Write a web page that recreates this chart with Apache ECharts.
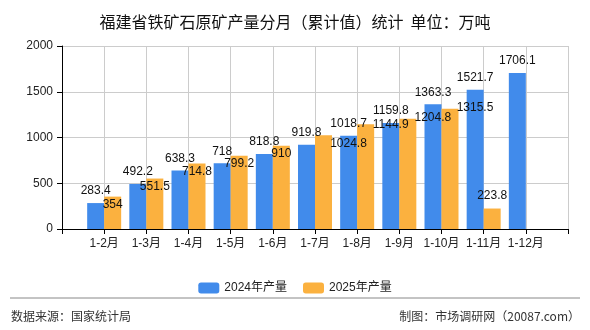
<!DOCTYPE html>
<html>
<head>
<meta charset="utf-8">
<script src="https://cdn.jsdelivr.net/npm/echarts@6/dist/echarts.min.js"></script>
<style>
  html, body { margin: 0; padding: 0; background: #fff; }
  #chart { width: 590px; height: 330px; }
</style>
</head>
<body>
<div id="chart"></div>
<script>
// 月份（累计）
const months = ['1-2月', '1-3月', '1-4月', '1-5月', '1-6月', '1-7月', '1-8月', '1-9月', '1-10月', '1-11月', '1-12月'];
// 产量，万吨
const output2024 = [283.4, 492.2, 638.3, 718, 818.8, 919.8, 1018.7, 1159.8, 1363.3, 1521.7, 1706.1];
const output2025 = [354, 551.5, 714.8, 799.2, 910, 1024.8, 1144.9, 1204.8, 1315.5, 223.8, null];
const yTicks = [0, 500, 1000, 1500, 2000];

const FONT = '"Liberation Sans", "Noto Sans CJK SC", sans-serif';
const chart = echarts.init(document.getElementById('chart'));

// 两端各留一个空位，让柱子落在刻度上
const cats = [''].concat(months, ['']);
const pad = arr => [null].concat(arr, [null]);

// 2025 标签的微调（按 cats 的下标）
const shift2025 = {
  6: { dx: 25 },
  7: { dx: 25, dy: -8 },
  8: { dx: 25, dy: -9 },
  9: { dx: 25, dy: -9 },
  10: { dy: -21 }
};

chart.setOption({
  backgroundColor: '#ffffff',
  animation: false,
  textStyle: { fontFamily: FONT },
  title: {
    text: '福建省铁矿石原矿产量分月（累计值）统计  单位：万吨',
    left: 'center',
    top: 9,
    textStyle: { fontSize: 16, fontWeight: 'normal', color: '#111', fontFamily: '"Noto Sans CJK SC", sans-serif' }
  },
  legend: {
    data: ['2024年产量', '2025年产量'],
    left: 'center',
    top: 277,
    itemWidth: 21,
    itemHeight: 11,
    itemGap: 16,
    textStyle: { fontSize: 12, color: '#222', fontFamily: FONT }
  },
  grid: { left: 62, right: 22, top: 46, bottom: 101 },
  xAxis: {
    type: 'category',
    data: cats,
    boundaryGap: false,
    axisLine: { lineStyle: { color: '#000' } },
    axisTick: { show: true, length: 5, lineStyle: { color: '#000' } },
    axisLabel: { fontSize: 12, color: '#222', margin: 9, interval: 0 },
    splitLine: { show: true, lineStyle: { color: '#ccc' } }
  },
  yAxis: {
    type: 'value',
    min: yTicks[0],
    max: yTicks[yTicks.length - 1],
    interval: 500,
    axisLine: { show: true, lineStyle: { color: '#000' } },
    axisTick: { show: true, length: 5, lineStyle: { color: '#000' } },
    axisLabel: { fontSize: 12, color: '#222', margin: 9, formatter: v => String(v) },
    splitLine: { lineStyle: { color: '#ccc' } }
  },
  series: [
    {
      name: '2024年产量',
      type: 'bar',
      data: pad(output2024),
      barWidth: 17,
      barGap: '0%',
      itemStyle: { color: '#418beb' },
      label: { show: true, position: 'top', distance: 6, fontSize: 12, color: '#111' }
    },
    {
      name: '2025年产量',
      type: 'bar',
      data: pad(output2025),
      barWidth: 17,
      itemStyle: { color: '#fbb13f' },
      label: { show: true, position: 'insideTop', distance: 2, fontSize: 12, color: '#111' },
      labelLayout: p => shift2025[p.dataIndex] || {}
    }
  ],
  graphic: [
    { type: 'line', shape: { x1: 10, y1: 298, x2: 580, y2: 298 }, style: { stroke: '#888', lineWidth: 1 } },
    { type: 'text', left: 11, top: 310, style: { text: '数据来源：国家统计局', fontSize: 12, fill: '#333', fontFamily: '"Noto Sans CJK SC", sans-serif' } },
    { type: 'text', right: 10, top: 310, style: { text: '制图：市场调研网（20087.com）', fontSize: 12, fill: '#333', fontFamily: '"Noto Sans CJK SC", sans-serif' } }
  ]
});
</script>
</body>
</html>
